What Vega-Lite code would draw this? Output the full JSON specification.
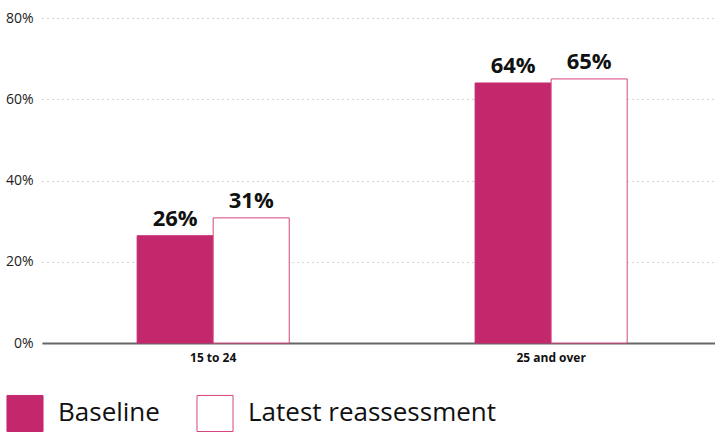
{
  "$schema": "https://vega.github.io/schema/vega-lite/v6.json",
  "width": 673,
  "height": 325,
  "autosize": {"type": "none"},
  "padding": {"left": 42, "top": 18, "right": 0, "bottom": 97},
  "config": {
    "view": {"stroke": null},
    "font": "Open Sans"
  },
  "data": {
    "values": [
      {"group": "15 to 24", "series": "Baseline", "value": 0.264},
      {"group": "15 to 24", "series": "Latest reassessment", "value": 0.308},
      {"group": "25 and over", "series": "Baseline", "value": 0.64},
      {"group": "25 and over", "series": "Latest reassessment", "value": 0.65}
    ]
  },
  "encoding": {
    "x": {
      "field": "group",
      "type": "nominal",
      "title": null,
      "scale": {"paddingInner": 0.55, "paddingOuter": 0.2707, "align": 0.52},
      "axis": {
        "labelAngle": 0,
        "labelFontWeight": "bold",
        "labelFontSize": 12,
        "labelColor": "#111",
        "labelPadding": 9,
        "ticks": false,
        "domainColor": "#666",
        "domainWidth": 2
      }
    },
    "xOffset": {"field": "series", "type": "nominal", "sort": ["Baseline", "Latest reassessment"]},
    "y": {
      "field": "value",
      "type": "quantitative",
      "title": null,
      "scale": {"domain": [0, 0.8]},
      "axis": {
        "format": ".0%",
        "values": [0, 0.2, 0.4, 0.6, 0.8],
        "labelFontSize": 14,
        "labelColor": "#222",
        "labelPadding": 9,
        "ticks": false,
        "domain": false,
        "gridColor": "#aaa",
        "gridDash": [1, 4],
        "gridWidth": 1
      }
    }
  },
  "layer": [
    {
      "mark": {"type": "bar", "strokeWidth": 1},
      "encoding": {
        "color": {
          "field": "series",
          "type": "nominal",
          "title": null,
          "scale": {"domain": ["Baseline", "Latest reassessment"], "range": ["#c4286c", "#ffffff"]},
          "legend": {
            "orient": "none",
            "legendX": -36,
            "legendY": 376,
            "direction": "horizontal",
            "symbolType": "square",
            "symbolSize": 1300,
            "symbolStrokeWidth": 1,
            "labelFontSize": 26,
            "labelLimit": 500,
            "labelColor": "#111",
            "labelFont": "Open Sans",
            "labelOffset": 14,
            "columnPadding": 34
          }
        },
        "stroke": {
          "field": "series",
          "type": "nominal",
          "title": null,
          "scale": {"domain": ["Baseline", "Latest reassessment"], "range": ["#c4286c", "#d6457f"]}
        }
      }
    },
    {
      "mark": {"type": "text", "baseline": "bottom", "dy": -5, "fontSize": 22, "fontWeight": "bold", "color": "#111"},
      "encoding": {
        "text": {"field": "value", "type": "quantitative", "format": ".0%"}
      }
    }
  ]
}
